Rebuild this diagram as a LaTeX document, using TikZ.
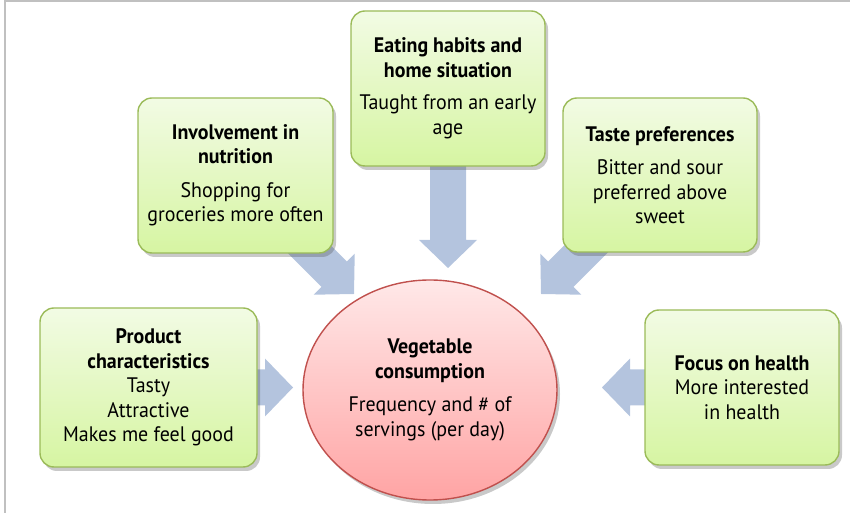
\documentclass[tikz,border=0pt]{standalone}
\usepackage{fontspec}
\setmainfont[FakeStretch=0.95]{PT Sans}
\usetikzlibrary{calc,shadows,shapes.geometric}
\pgfdeclarelayer{background}
\pgfsetlayers{background,main}
\definecolor{boxedge}{RGB}{155,187,89}
\definecolor{boxtop}{RGB}{242,251,228}
\definecolor{boxbot}{RGB}{214,245,162}
\definecolor{elltop}{RGB}{255,232,232}
\definecolor{ellbot}{RGB}{255,164,164}
\definecolor{elledge}{RGB}{192,80,77}
\definecolor{arrowfill}{RGB}{180,196,222}
\definecolor{framegray}{RGB}{192,192,192}
\tikzset{
  factor/.style={rectangle, rounded corners=14pt, draw=boxedge, line width=1.4pt,
    top color=boxtop, bottom color=boxbot, align=center, inner sep=0pt,
    font=\fontsize{21}{24.5}\selectfont,
    drop shadow={shadow xshift=3pt, shadow yshift=-4pt, opacity=0.3, fill=black!70}},
  outcome/.style={ellipse, draw=elledge, line width=1.4pt,
    top color=elltop, bottom color=ellbot, align=center, inner sep=0pt,
    minimum width=254pt, minimum height=220pt,
    font=\fontsize{21}{24.5}\selectfont,
    drop shadow={shadow xshift=3pt, shadow yshift=-4pt, opacity=0.3, fill=black!70}},
  blockarrow/.style={fill=arrowfill, draw=none}
}
% #1 start, #2 tip
\newcommand\myblockarrow[2]{%
  \path coordinate (ba-b) at ($(#2)!28pt!(#1)$);
  \fill[blockarrow]
    ($(#1)!18pt!90:(#2)$) -- ($(ba-b)!18pt!-90:(#1)$) -- ($(ba-b)!29pt!-90:(#1)$) --
    (#2) -- ($(ba-b)!29pt!90:(#1)$) -- ($(ba-b)!18pt!90:(#1)$) --
    ($(#1)!18pt!-90:(#2)$) -- cycle;
}
\begin{document}
\begin{tikzpicture}[x=1pt,y=1pt]
\useasboundingbox (0,0) rectangle (850,513);
\draw[framegray, line width=2.5pt] (5,0) -- (5,512) -- (850,512);

\node[outcome] (veg) at (430,123) {\textbf{Vegetable}\\\textbf{consumption}\\[9pt]Frequency and \# of\\servings (per day)};

\node[factor, minimum width=194pt, minimum height=155pt] (eat) at (448,424.5)
  {\textbf{Eating habits and}\\\textbf{home situation}\\[8pt]Taught from an early\\age};
\node[factor, minimum width=195pt, minimum height=155pt] (inv) at (235.5,337.5)
  {\textbf{Involvement in}\\\textbf{nutrition}\\[9pt]Shopping for\\groceries more often};
\node[factor, minimum width=194pt, minimum height=154pt] (taste) at (660,338)
  {\textbf{Taste preferences}\\[9pt]Bitter and sour\\preferred above\\sweet};
\node[factor, minimum width=217pt, minimum height=159pt] (prod) at (148.5,125.5)
  {\textbf{Product}\\\textbf{characteristics}\\Tasty\\Attractive\\Makes me feel good};
\node[factor, minimum width=194pt, minimum height=155pt] (focus) at (742,125.5)
  {\textbf{Focus on health}\\More interested\\in health};

\coordinate (tipT) at (448,245);
\coordinate (tipUL) at (354,219);
\coordinate (tipUR) at (541,219);
\coordinate (tipL) at (293,125.5);
\coordinate (tipR) at (602,125.5);

\begin{pgfonlayer}{background}
  \myblockarrow{eat.center}{tipT}
  \myblockarrow{inv.center}{tipUL}
  \myblockarrow{taste.center}{tipUR}
  \myblockarrow{prod.center}{tipL}
  \myblockarrow{focus.center}{tipR}
\end{pgfonlayer}
\end{tikzpicture}
\end{document}
